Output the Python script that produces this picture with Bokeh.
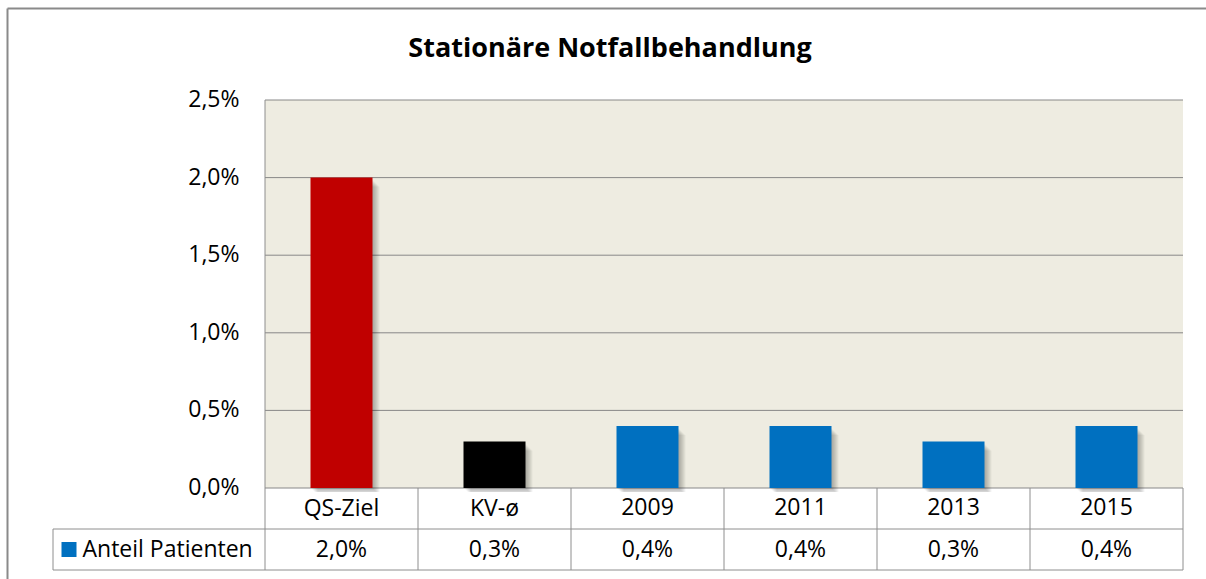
import numpy as np
from bokeh.plotting import figure
from bokeh.models import Range1d
from bokeh.core.properties import value
from bokeh.embed import file_html
from bokeh.resources import INLINE

# ---------------- data ----------------
TITLE = "Stationäre Notfallbehandlung"
CATEGORIES = ["QS-Ziel", "KV-ø", "2009", "2011", "2013", "2015"]
VALUES = [2.0, 0.3, 0.4, 0.4, 0.3, 0.4]          # percent
BAR_COLORS = ["#C00000", "#000000", "#0070C0", "#0070C0", "#0070C0", "#0070C0"]
SERIES_NAME = "Anteil Patienten"
SERIES_COLOR = "#0070C0"
Y_TICKS = [0.0, 0.5, 1.0, 1.5, 2.0, 2.5]

# ---------------- style / layout (page pixels) ----------------
FONT = "Open Sans"
FS = "23px"
GRID = "#888888"
LINE = "#8E8E8E"
BORDER = "#8A8A8A"
PLOT_BG = "#EEECE1"

W, H = 1206, 579
PL, PR, PT, PB = 264.5, 1182.5, 99.5, 487.5   # plot area on page
ROW1_B = 528.5
ROW2_B = 569.5
TAB_L = 52.5
NCOL = len(CATEGORIES)
XPX = (PR - PL) / NCOL        # px per column
YPX = Y_TICKS[-1] / (PB - PT) # value per px
DY = -2                       # vertical nudge of middle-aligned texts


def fmt(v):
    return f"{v:.1f}".replace(".", ",") + "%"


def xd(px):
    return (px - PL) / XPX


def yd(py):
    return (PB - py) * YPX


p = figure(width=W, height=H, output_backend="svg", toolbar_location=None,
           x_range=Range1d(xd(0), xd(W)), y_range=Range1d(yd(H), yd(0)),
           min_border=0, min_border_left=0, min_border_right=0,
           min_border_top=0, min_border_bottom=0)
p.outline_line_color = None
p.background_fill_color = "white"
p.border_fill_color = "white"
p.axis.visible = False
p.grid.visible = False

# outer chart border
p.segment(x0=[xd(7), xd(7)], y0=[yd(H + 5), yd(8)], x1=[xd(7), xd(W + 5)], y1=[yd(8), yd(8)],
          line_color=BORDER, line_width=2)

# title
p.text(x=[xd(609.5)], y=[yd(47.5 + DY)], text=[TITLE], text_align="center",
       text_baseline="middle", text_font=value(FONT), text_font_size="27px",
       text_font_style="bold", text_color="black")

# plot area, grid and y tick labels
p.quad(left=[0], right=[NCOL], bottom=[0], top=[Y_TICKS[-1]],
       fill_color=PLOT_BG, line_color=None)
p.segment(x0=[0] * len(Y_TICKS), y0=Y_TICKS, x1=[NCOL] * len(Y_TICKS), y1=Y_TICKS,
          line_color=GRID, line_width=1)
p.text(x=[xd(239)] * len(Y_TICKS), y=np.array(Y_TICKS) - DY * YPX,
       text=[fmt(t) for t in Y_TICKS], text_align="right", text_baseline="middle",
       text_font=value(FONT), text_font_size=FS, text_color="black")

# bars with a soft shadow
xs = np.arange(NCOL) + 0.5
vals = np.array(VALUES)
bw = 62 / XPX
for off in range(1, 8):
    p.vbar(x=xs + off / XPX, top=vals - (off + 2) * YPX, bottom=-min(off, 4) * YPX,
           width=bw, fill_color="black", fill_alpha=0.045, line_color=None)
p.vbar(x=xs, top=vals, bottom=0, width=bw, fill_color=BAR_COLORS, line_color=None)

# data table lines
p.segment(x0=[0], y0=[yd(ROW2_B)], x1=[0], y1=[Y_TICKS[-1]], line_color=LINE, line_width=1)
p.segment(x0=np.arange(1, NCOL + 1), y0=[yd(ROW2_B)] * NCOL, x1=np.arange(1, NCOL + 1),
          y1=[0] * NCOL, line_color=LINE, line_width=1)
tl = xd(TAB_L)
p.segment(x0=[tl, tl], y0=[yd(ROW1_B), yd(ROW2_B)], x1=[NCOL, NCOL],
          y1=[yd(ROW1_B), yd(ROW2_B)], line_color=LINE, line_width=1)
p.segment(x0=[tl], y0=[yd(ROW1_B)], x1=[tl], y1=[yd(ROW2_B)], line_color=LINE, line_width=1)

# data table texts
p.text(x=xs, y=[yd((PB + ROW1_B) / 2 + DY)] * NCOL, text=CATEGORIES,
       text_align="center", text_baseline="middle",
       text_font=value(FONT), text_font_size=FS, text_color="black")
ym = (ROW1_B + ROW2_B) / 2
p.text(x=xs, y=[yd(ym + DY)] * NCOL, text=[fmt(v) for v in VALUES], text_align="center",
       text_baseline="middle", text_font=value(FONT), text_font_size=FS, text_color="black")

# legend key in the table
p.scatter(x=[xd(68.5)], y=[yd(ym)], marker="square", size=15,
          fill_color=SERIES_COLOR, line_color=None)
p.text(x=[xd(82)], y=[yd(ym + DY)], text=[SERIES_NAME], text_align="left",
       text_baseline="middle", text_font=value(FONT), text_font_size=FS, text_color="black")

open("out.html", "w").write(file_html(p, INLINE))
